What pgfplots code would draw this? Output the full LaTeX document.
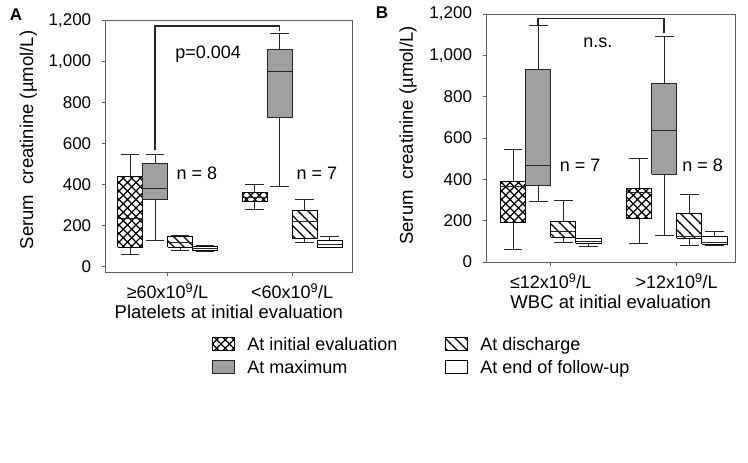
\documentclass[border=0pt]{standalone}
\usepackage{fontspec}
\setmainfont{Liberation Sans}
\usepackage{pgfplots}
\pgfplotsset{compat=1.18}
\usetikzlibrary{patterns}

\definecolor{boxgray}{RGB}{160,160,160}
\definecolor{framegray}{RGB}{95,95,95}

% diamond lattice and back-slash hatching
\pgfdeclarepatternformonly{xhatch}{\pgfpoint{-1bp}{-1bp}}{\pgfpoint{9.5bp}{9.5bp}}{\pgfpoint{8.5bp}{8.5bp}}{
  \pgfsetlinewidth{1.1bp}
  \pgfpathmoveto{\pgfpoint{-0.5bp}{-0.5bp}}\pgfpathlineto{\pgfpoint{9bp}{9bp}}
  \pgfpathmoveto{\pgfpoint{-0.5bp}{9bp}}\pgfpathlineto{\pgfpoint{9bp}{-0.5bp}}
  \pgfusepath{stroke}}
\pgfdeclarepatternformonly{bshatch}{\pgfpoint{-1bp}{-1bp}}{\pgfpoint{11bp}{11bp}}{\pgfpoint{10bp}{10bp}}{
  \pgfsetlinewidth{1.1bp}
  \pgfpathmoveto{\pgfpoint{-0.5bp}{10.5bp}}\pgfpathlineto{\pgfpoint{10.5bp}{-0.5bp}}
  \pgfusepath{stroke}}

\pgfplotsset{
  panel/.style={
    scale only axis, clip=false,
    axis line style={framegray, line width=0.9pt},
    tick pos=left, tick align=outside, major tick length=4bp,
    tick style={framegray, line width=0.8pt},
    xtick={1,2},
    ytick={0,200,...,1200},
    yticklabels={0,200,400,600,800,{1,000},{1,200}},
    tick label style={font=\fontsize{17bp}{20bp}\selectfont},
    xticklabel style={font=\fontsize{18bp}{21bp}\selectfont, yshift=-4bp},
    yticklabel style={xshift=-7bp},
    label style={font=\fontsize{18.5bp}{22bp}\selectfont},
  },
  iniarea/.style={draw=black, line width=0.9pt, pattern=xhatch, pattern color=black},
  mxarea/.style={draw=black!85, line width=0.9pt, fill=boxgray},
  disarea/.style={draw=black, line width=0.9pt, pattern=bshatch, pattern color=black},
  fuarea/.style={draw=black, line width=0.9pt, fill=white},
  whisk/.style={black!85, line width=0.8pt, forget plot},
  sq/.style={legend image code/.code={\draw[##1] (0bp,-6.5bp) rectangle (22bp,6.5bp);}},
}

% one box: style, position, lower whisker, lower quartile, median, upper quartile, upper whisker
\newcommand{\bx}[7]{%
  \pgfmathsetmacro\xl{#2-0.1}\pgfmathsetmacro\xr{#2+0.1}%
  \pgfmathsetmacro\wl{#2-0.075}\pgfmathsetmacro\wr{#2+0.075}%
  \addplot[whisk] coordinates {(#2,#6) (#2,#7)};
  \addplot[whisk] coordinates {(\wl,#7) (\wr,#7)};
  \addplot[whisk] coordinates {(#2,#4) (#2,#3)};
  \addplot[whisk] coordinates {(\wl,#3) (\wr,#3)};
  \addplot[#1, forget plot] coordinates {(\xl,#4) (\xr,#4) (\xr,#6) (\xl,#6) (\xl,#4)};
  \addplot[whisk] coordinates {(\xl,#5) (\xr,#5)};
}

\begin{document}
\begin{tikzpicture}
\useasboundingbox (0,0) rectangle (748bp,463bp);

% panel A
\begin{axis}[panel,
  at={(105.7bp,191bp)}, anchor=south west,
  width=246.3bp, height=251.5bp,
  xmin=0.504, xmax=2.48, ymin=-25, ymax=1200,
  xticklabels={≥60x10\textsuperscript{9}/L, <60x10\textsuperscript{9}/L},
  xlabel={Platelets at initial evaluation},
  ylabel={Serum\ \ creatinine (µmol/L)},
  ylabel style={at={(axis description cs:-0.314,0.525)}, anchor=center},
  legend columns=2, legend cell align=left,
  legend style={at={(axis description cs:0.429,-0.25)}, anchor=north west,
    draw=none, fill=none, inner sep=0pt, row sep=4.5bp,
    font=\fontsize{18bp}{21bp}\selectfont,
    /tikz/every odd column/.append style={column sep=11bp},
    /tikz/every even column/.append style={column sep=45bp}},
]
\bx{iniarea}{0.7}{62}{95}{235}{440}{546}
\bx{mxarea}{0.9}{130}{329}{380}{502}{546}
\bx{disarea}{1.1}{80}{97}{120}{148}{152}
\bx{fuarea}{1.3}{75}{78}{88}{100}{105}
\bx{iniarea}{1.7}{279}{318}{340}{364}{400}
\bx{mxarea}{1.9}{390}{728}{951}{1060}{1138}
\bx{disarea}{2.1}{120}{137}{223}{275}{327}
\bx{fuarea}{2.3}{95}{97}{110}{130}{149}
\addplot[black!85, line width=1.3pt, forget plot] coordinates {(0.9,570) (0.9,1173) (1.9,1173) (1.9,1150)};
\node[font=\fontsize{18bp}{21bp}\selectfont] at (axis cs:1.325,1036) {p=0.004};
\node[font=\fontsize{18bp}{21bp}\selectfont] at (axis cs:1.235,455) {n = 8};
\node[font=\fontsize{18bp}{21bp}\selectfont] at (axis cs:2.198,455) {n = 7};
\addlegendimage{sq, iniarea}\addlegendentry{At initial evaluation}
\addlegendimage{sq, disarea}\addlegendentry{At discharge}
\addlegendimage{sq, mxarea}\addlegendentry{At maximum}
\addlegendimage{sq, fuarea}\addlegendentry{At end of follow-up}
\end{axis}

% panel B
\begin{axis}[panel,
  at={(486.5bp,201bp)}, anchor=south west,
  width=248.5bp, height=248bp,
  xmin=0.49, xmax=2.463, ymin=0, ymax=1200,
  xticklabels={≤12x10\textsuperscript{9}/L, >12x10\textsuperscript{9}/L},
  xlabel={WBC at initial evaluation},
  ylabel={Serum\ \ creatinine (µmol/L)},
  ylabel style={at={(axis description cs:-0.316,0.51)}, anchor=center},
]
\bx{iniarea}{0.7}{62}{190}{365}{390}{545}
\bx{mxarea}{0.9}{295}{370}{466}{930}{1143}
\bx{disarea}{1.1}{97}{120}{150}{198}{300}
\bx{fuarea}{1.3}{75}{90}{100}{112}{115}
\bx{iniarea}{1.7}{90}{212}{335}{355}{500}
\bx{mxarea}{1.9}{127}{425}{638}{865}{1090}
\bx{disarea}{2.1}{82}{115}{125}{235}{328}
\bx{fuarea}{2.3}{82}{87}{95}{125}{150}
\addplot[black!85, line width=1.3pt, forget plot] coordinates {(0.9,1147) (0.9,1179) (1.9,1179) (1.9,1107)};
\node[font=\fontsize{18bp}{21bp}\selectfont] at (axis cs:1.375,1060) {n.s.};
\node[font=\fontsize{18bp}{21bp}\selectfont] at (axis cs:1.233,466) {n = 7};
\node[font=\fontsize{18bp}{21bp}\selectfont] at (axis cs:2.206,466) {n = 8};
\end{axis}

\node[font=\bfseries\fontsize{17bp}{20bp}\selectfont] at (16bp,448bp) {A};
\node[font=\bfseries\fontsize{17bp}{20bp}\selectfont] at (382bp,450bp) {B};
\end{tikzpicture}
\end{document}
